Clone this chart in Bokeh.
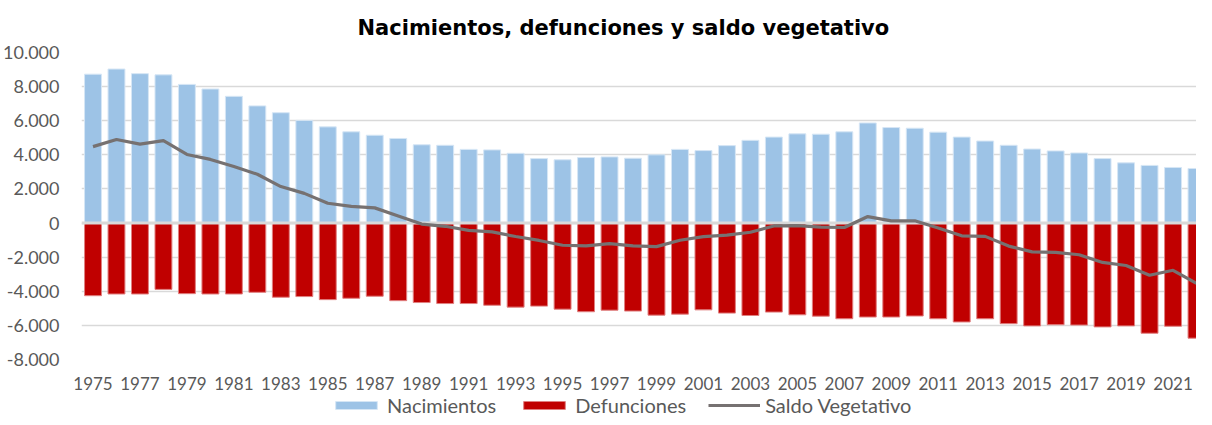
from bokeh.plotting import figure
from bokeh.layouts import column
from bokeh.models import (Range1d, FixedTicker, CustomJSTickFormatter, Span,
                          Legend, LegendItem, ColumnDataSource)
from bokeh.embed import file_html
from bokeh.resources import INLINE

years = list(range(1975, 2023))
nacimientos = [8730, 9030, 8760, 8690, 8130, 7860, 7430, 6870, 6470, 6020, 5640, 5350,
               5150, 4960, 4590, 4560, 4320, 4290, 4090, 3780, 3710, 3840, 3880, 3800,
               4000, 4320, 4250, 4540, 4850, 5040, 5230, 5210, 5350, 5870, 5600, 5560,
               5330, 5040, 4810, 4560, 4340, 4230, 4110, 3780, 3530, 3380, 3260, 3200]
defunciones = [-4260, -4160, -4160, -3890, -4140, -4160, -4160, -4060, -4350, -4310,
               -4490, -4410, -4290, -4550, -4660, -4720, -4720, -4820, -4930, -4870,
               -5050, -5200, -5110, -5160, -5400, -5340, -5090, -5280, -5420, -5220,
               -5380, -5460, -5610, -5510, -5510, -5450, -5610, -5800, -5610, -5900,
               -6030, -5960, -5980, -6090, -6030, -6460, -6050, -6750]
saldo = [4480, 4900, 4630, 4830, 4020, 3730, 3320, 2860, 2140, 1740, 1160, 980, 890,
         410, -60, -190, -430, -520, -790, -1020, -1300, -1340, -1210, -1340, -1380,
         -1010, -800, -710, -540, -170, -150, -240, -260, 380, 130, 130, -290, -750,
         -780, -1350, -1690, -1720, -1860, -2310, -2490, -3060, -2770, -3530]
tick_years = years[::2]
y_ticks = [-8000, -6000, -4000, -2000, 0, 2000, 4000, 6000, 8000, 10000]

BLUE, BLUE_EDGE = "#9DC3E6", "#D6E6F5"
RED, RED_EDGE = "#C00000", "#E08080"
GRAY = "#767171"

src = ColumnDataSource(dict(x=years, nac=nacimientos, defu=defunciones, saldo=saldo))

p = figure(width=1196, height=392, output_backend="svg", toolbar_location=None,
           x_range=Range1d(1974.51, 2022.0), y_range=Range1d(-8000, 10000),
           min_border_left=74, min_border_right=0, min_border_top=52,
           min_border_bottom=32)

p.title.text = "Nacimientos, defunciones y saldo vegetativo"
p.title.text_font = "DejaVu Sans"
p.title.text_font_style = "bold"
p.title.text_font_size = "21px"
p.title.text_color = "#000000"
p.title.align = "left"
p.title.offset = 276
p.title.standoff = 22
p.title.vertical_align = "top"

p.outline_line_color = None
p.background_fill_color = "white"
p.border_fill_color = "white"

r_nac = p.vbar(x="x", top="nac", bottom=0, width=0.72, source=src,
               fill_color=BLUE, line_color=BLUE_EDGE, line_width=1)
r_def = p.vbar(x="x", top=0, bottom="defu", width=0.72, source=src,
               fill_color=RED, line_color=RED_EDGE, line_width=1)

zero = Span(location=0, dimension="width", line_color="#D9D9D9", line_width=3)
p.add_layout(zero)

r_sal = p.line(x="x", y="saldo", source=src, line_color=GRAY, line_width=3.2,
               line_join="round")
r_sal.level = "overlay"

p.xgrid.grid_line_color = None
p.ygrid.grid_line_color = "#D9D9D9"
p.ygrid.grid_line_width = 1.6
p.ygrid.ticker = FixedTicker(ticks=y_ticks)

p.yaxis.ticker = FixedTicker(ticks=y_ticks)
p.yaxis.formatter = CustomJSTickFormatter(code="""
const s = Math.abs(tick).toFixed(0).replace(/\\B(?=(\\d{3})+(?!\\d))/g, '.');
return (tick < 0 ? '-' : '') + s;
""")
p.xaxis.ticker = FixedTicker(ticks=tick_years)
p.xaxis.formatter = CustomJSTickFormatter(code="return tick.toFixed(0);")

for ax in (p.xaxis[0], p.yaxis[0]):
    ax.axis_line_color = None
    ax.major_tick_line_color = None
    ax.minor_tick_line_color = None
    ax.major_label_text_font = "Lato"
    ax.major_label_text_color = "#595959"
p.xaxis.major_label_text_font_size = "17px"
p.yaxis.major_label_text_font_size = "18px"
p.yaxis.major_label_standoff = 16
p.xaxis.major_label_standoff = 11

# legend strip (same data, glyphs kept out of view; only the legend shows)
lg = figure(width=1196, height=25, output_backend="svg", toolbar_location=None,
            x_range=Range1d(0, 1), y_range=Range1d(0, 1),
            x_axis_type=None, y_axis_type=None,
            min_border_left=0, min_border_right=0, min_border_top=0,
            min_border_bottom=0)
lg.outline_line_color = None
lg.xgrid.visible = False
lg.ygrid.visible = False
l_nac = lg.vbar(x="x", top="nac", bottom=0, width=0.72, source=src,
                fill_color=BLUE, line_color=BLUE_EDGE)
l_def = lg.vbar(x="x", top=0, bottom="defu", width=0.72, source=src,
                fill_color=RED, line_color=RED_EDGE)
l_sal = lg.line(x="x", y="saldo", source=src, line_color=GRAY, line_width=3.2)

legend = Legend(items=[LegendItem(label="Nacimientos", renderers=[l_nac]),
                       LegendItem(label="Defunciones", renderers=[l_def]),
                       LegendItem(label="Saldo Vegetativo", renderers=[l_sal])],
                orientation="horizontal", location=(249, 0),
                glyph_width=52, glyph_height=10, label_standoff=5, spacing=22,
                padding=0, margin=0, border_line_color=None,
                label_text_font="Lato", label_text_font_size="20px",
                label_text_color="#595959", background_fill_alpha=0)
lg.add_layout(legend, "center")

layout = column(p, lg, spacing=0)
open("out.html", "w").write(file_html(layout, INLINE))
